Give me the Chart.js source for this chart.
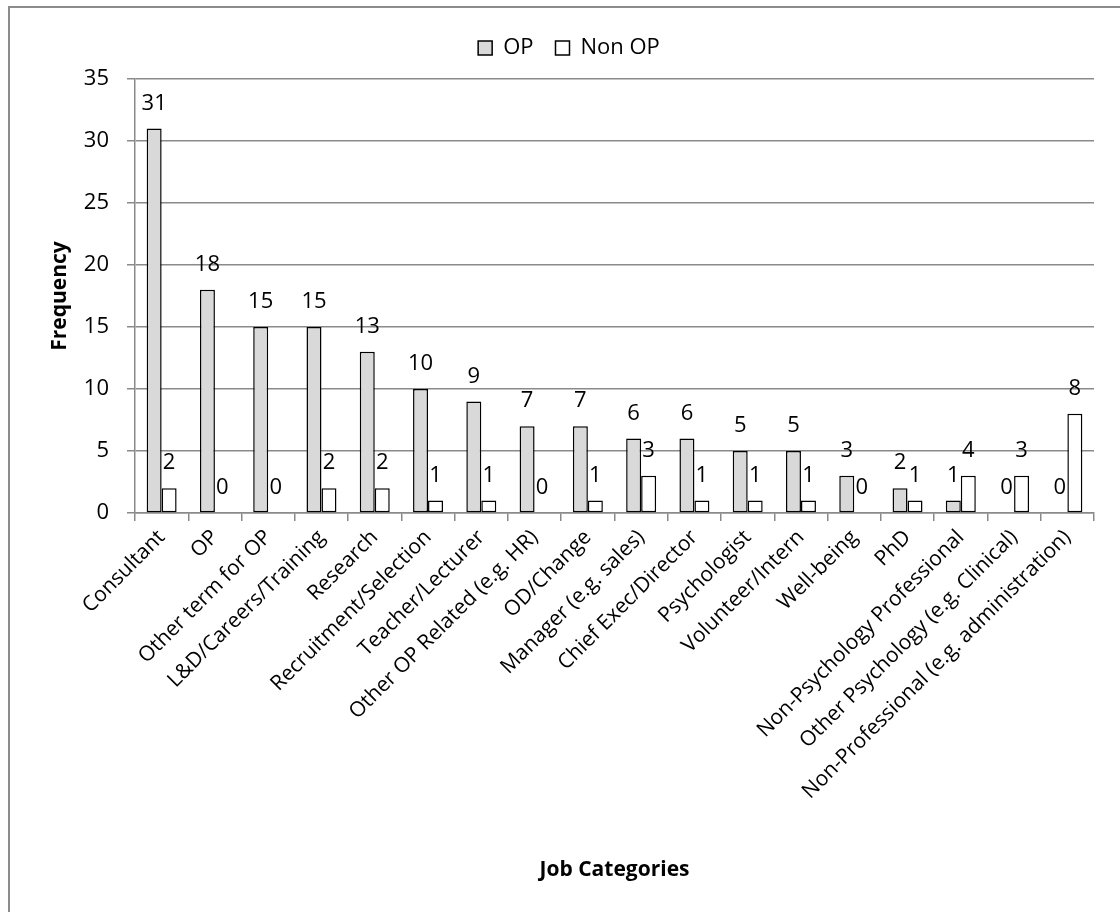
<!DOCTYPE html>
<html>
<head>
<meta charset="utf-8">
<title>Job Categories</title>
<script src="https://cdn.jsdelivr.net/npm/chart.js@4.4.1/dist/chart.umd.min.js"></script>
<style>
    html, body { margin: 0; padding: 0; background: #fff; }
    #wrap { position: relative; width: 1120px; height: 912px; overflow: hidden; }
</style>
</head>
<body>
<div id="wrap">
    <canvas id="jobChart" width="1120" height="912"></canvas>
</div>
<script>
// Job categories by group
const categories = [
    'Consultant', 'OP', 'Other term for OP', 'L&D/Careers/Training', 'Research',
    'Recruitment/Selection', 'Teacher/Lecturer', 'Other OP Related (e.g. HR)',
    'OD/Change', 'Manager (e.g. sales)', 'Chief Exec/Director', 'Psychologist',
    'Volunteer/Intern', 'Well-being', 'PhD', 'Non-Psychology Professional',
    'Other Psychology (e.g. Clinical)', 'Non-Professional (e.g. administration)'
];
const opValues    = [31, 18, 15, 15, 13, 10, 9, 7, 7, 6, 6, 5, 5, 3, 2, 1, 0, 0];
const nonOpValues = [2, 0, 0, 2, 2, 1, 1, 0, 1, 3, 1, 1, 1, 0, 1, 3, 3, 8];
// label text as printed in the original (one label there does not match its bar)
const opLabelText    = ['31', '18', '15', '15', '13', '10', '9', '7', '7', '6', '6', '5', '5', '3', '2', '1', '0', '0'];
const nonOpLabelText = ['2', '0', '0', '2', '2', '1', '1', '0', '1', '3', '1', '1', '1', '0', '1', '4', '3', '8'];
const yTicks = [0, 5, 10, 15, 20, 25, 30, 35];

const FONT = "'Open Sans', 'Noto Sans', sans-serif";
const AXIS_GRAY = '#8a8a8a';

// Value labels above each bar
const barLabels = {
    id: 'barLabels',
    afterDatasetsDraw(chart) {
        const ctx = chart.ctx;
        ctx.save();
        ctx.font = '22px ' + FONT;
        ctx.fillStyle = '#000';
        ctx.textAlign = 'center';
        ctx.textBaseline = 'middle';
        chart.data.datasets.forEach((ds, i) => {
            const meta = chart.getDatasetMeta(i);
            meta.data.forEach((bar, j) => {
                ctx.fillText(ds.labelText[j], bar.x, bar.y - 25);
            });
        });
        ctx.restore();
    }
};

// Extra space between legend and plot
const legendGap = {
    id: 'legendGap',
    beforeInit(chart) {
        const originalFit = chart.legend.fit;
        chart.legend.fit = function fit() {
            originalFit.bind(chart.legend)();
            this.height += 10;
        };
    }
};

// Grey frame around the whole chart (runs off the right/bottom edge)
const chartFrame = {
    id: 'chartFrame',
    afterDraw(chart) {
        const ctx = chart.ctx;
        ctx.save();
        ctx.strokeStyle = '#8c8c8c';
        ctx.lineWidth = 2;
        ctx.strokeRect(9, 7, 1300, 1100);
        ctx.restore();
    }
};

const ctx = document.getElementById('jobChart').getContext('2d');
new Chart(ctx, {
    type: 'bar',
    data: {
        labels: categories,
        datasets: [{
            label: 'OP',
            data: opValues,
            labelText: opLabelText,
            backgroundColor: '#d9d9d9',
            borderColor: '#000',
            borderWidth: 1.5,
            borderSkipped: false
        }, {
            label: 'Non OP',
            data: nonOpValues,
            labelText: nonOpLabelText,
            backgroundColor: '#ffffff',
            borderColor: '#000',
            borderWidth: 1.5,
            borderSkipped: false
        }]
    },
    options: {
        responsive: false,
        animation: false,
        events: [],
        layout: {
            padding: { top: 15, left: 44, right: 26, bottom: 0 }
        },
        datasets: {
            bar: {
                categoryPercentage: 0.5625,
                barPercentage: 1
            }
        },
        plugins: {
            legend: {
                position: 'top',
                labels: {
                    color: '#000',
                    boxWidth: 14,
                    boxHeight: 14,
                    padding: 22,
                    font: { size: 22, family: FONT }
                }
            },
            tooltip: { enabled: false }
        },
        scales: {
            x: {
                offset: true,
                afterFit(scale) {
                    scale.height = 399;
                },
                grid: {
                    offset: true,
                    drawOnChartArea: false,
                    color: AXIS_GRAY,
                    lineWidth: 1.5,
                    tickLength: 8
                },
                border: { color: AXIS_GRAY, width: 1.5 },
                ticks: {
                    color: '#000',
                    autoSkip: false,
                    minRotation: 45,
                    maxRotation: 45,
                    padding: 4,
                    font: { size: 21, family: FONT }
                },
                title: {
                    display: true,
                    text: 'Job Categories',
                    color: '#000',
                    padding: { top: 0, bottom: 29 },
                    font: { size: 21, weight: 'bold', family: FONT }
                }
            },
            y: {
                min: 0,
                max: 35,
                afterFit(scale) {
                    scale.width = 91;
                },
                afterBuildTicks(scale) {
                    scale.ticks = yTicks.map(v => ({ value: v }));
                },
                grid: {
                    color: AXIS_GRAY,
                    lineWidth: 1.5,
                    tickLength: 8
                },
                border: { color: AXIS_GRAY, width: 1.5 },
                ticks: {
                    color: '#000',
                    padding: 18,
                    font: { size: 22, family: FONT }
                },
                title: {
                    display: true,
                    text: 'Frequency',
                    color: '#000',
                    padding: { top: 3, bottom: 0 },
                    font: { size: 21, weight: 'bold', family: FONT }
                }
            }
        }
    },
    plugins: [barLabels, legendGap, chartFrame]
});
</script>
</body>
</html>
